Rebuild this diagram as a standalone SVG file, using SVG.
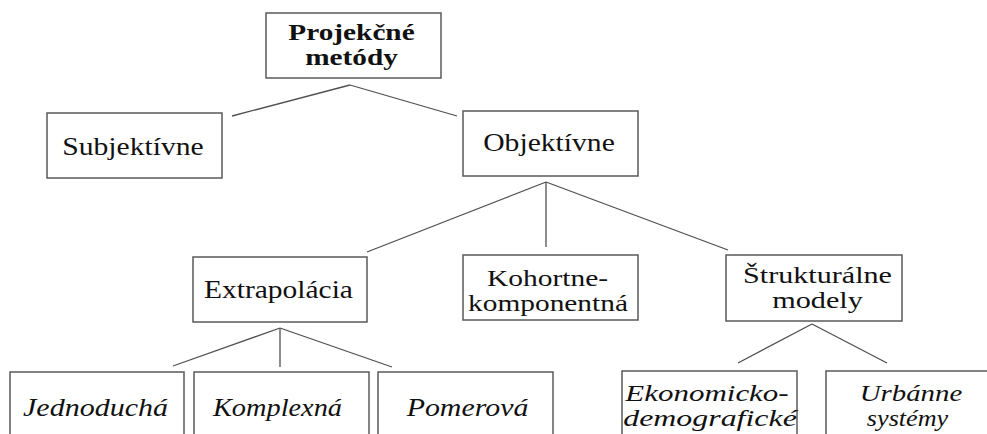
<svg xmlns="http://www.w3.org/2000/svg" width="987" height="434" viewBox="0 0 987 434">
<style>
.box{fill:#fff;stroke:#5a5a5a;stroke-width:1.5}
.conn line{stroke:#505050;stroke-width:1.3}
text{font-family:'Liberation Serif','Times New Roman',serif;font-size:26px;fill:#111;text-anchor:middle}
.t2{font-size:24px}
.b{font-weight:bold;font-size:24px}
.i{font-style:italic}
</style>
<rect width="987" height="434" fill="#fff"/>
<g id="connectors" class="conn">
<line x1="350" y1="85" x2="232" y2="116"/>
<line x1="350" y1="85" x2="457" y2="116"/>
<line x1="546" y1="182" x2="367" y2="252"/>
<line x1="546" y1="182" x2="546" y2="247"/>
<line x1="546" y1="182" x2="728" y2="250"/>
<line x1="280" y1="328" x2="173" y2="366"/>
<line x1="280" y1="328" x2="280" y2="367"/>
<line x1="280" y1="328" x2="392" y2="367"/>
<line x1="812" y1="324" x2="738" y2="363"/>
<line x1="812" y1="324" x2="887" y2="363"/>
</g>
<g id="projekcne">
<rect class="box" x="266" y="13" width="175" height="65"/>
<text class="b" transform="translate(351.5,40) scale(1.22,1)">Projekčné</text>
<text class="b" transform="translate(351.5,65) scale(1.22,1)">metódy</text>
</g>
<g id="subjektivne">
<rect class="box" x="47" y="113" width="175" height="65"/>
<text transform="translate(133,155) scale(1.14,1)">Subjektívne</text>
</g>
<g id="objektivne">
<rect class="box" x="463" y="111" width="175" height="65"/>
<text transform="translate(549,151) scale(1.14,1)">Objektívne</text>
</g>
<g id="extrapolacia">
<rect class="box" x="193" y="257" width="174" height="65"/>
<text transform="translate(278.5,298) scale(1.134,1)">Extrapolácia</text>
</g>
<g id="kohortne">
<rect class="box" x="463" y="255" width="175" height="65"/>
<text class="t2" transform="translate(547.5,286) scale(1.227,1)">Kohortne-</text>
<text class="t2" transform="translate(548,311) scale(1.224,1)">komponentná</text>
</g>
<g id="strukturalne">
<rect class="box" x="726" y="255" width="176" height="66"/>
<text class="t2" transform="translate(817.5,283) scale(1.255,1)">Štrukturálne</text>
<text class="t2" transform="translate(817.5,308) scale(1.26,1)">modely</text>
</g>
<g id="jednoducha">
<rect class="box" x="10" y="372" width="174" height="75"/>
<text class="i" transform="translate(95.5,416) scale(1.154,1)">Jednoduchá</text>
</g>
<g id="komplexna">
<rect class="box" x="194" y="372" width="175" height="75"/>
<text class="i" transform="translate(277.5,416) scale(1.09,1)">Komplexná</text>
</g>
<g id="pomerova">
<rect class="box" x="378" y="372" width="175" height="75"/>
<text class="i" transform="translate(467.5,416) scale(1.15,1)">Pomerová</text>
</g>
<g id="ekonomicko">
<rect class="box" x="622" y="371" width="175" height="75"/>
<text class="t2 i" transform="translate(707,401) scale(1.29,1)">Ekonomicko-</text>
<text class="t2 i" transform="translate(710,426) scale(1.33,1)">demografické</text>
</g>
<g id="urbanne">
<rect class="box" x="826" y="371" width="175" height="75"/>
<text class="t2 i" transform="translate(911,401) scale(1.2,1)">Urbánne</text>
<text class="t2 i" transform="translate(907.5,426) scale(1.09,1)">systémy</text>
</g>
</svg>
